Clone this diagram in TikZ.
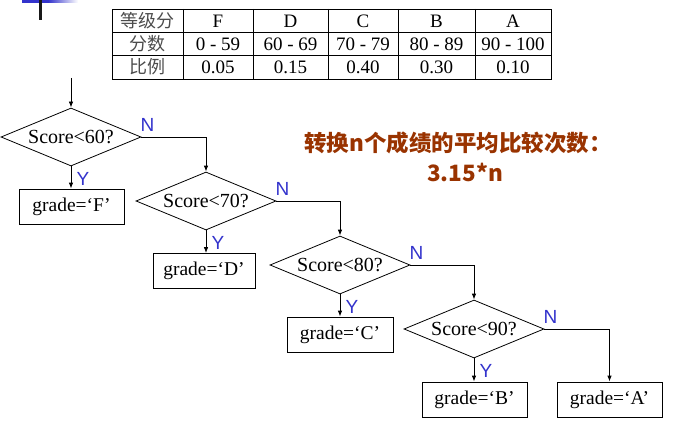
\documentclass[tikz,border=0pt]{standalone}
\usepackage{fontspec}
\setmainfont{Liberation Serif}
\newfontfamily\cjk{Noto Sans CJK SC}
\newfontfamily\lab{Liberation Sans}
\usetikzlibrary{shapes.geometric,arrows.meta}
\definecolor{ynblue}{RGB}{51,51,204}
\definecolor{hbrown}{RGB}{153,51,0}
\tikzset{
  dec/.style={diamond, draw, line width=0.8pt, aspect=2.4, minimum width=140pt, minimum height=58pt, inner sep=0pt, font=\fontsize{20}{20}\selectfont},
  gbox/.style={draw, rectangle, line width=0.8pt, minimum width=105pt, minimum height=35pt, inner sep=0pt, font=\fontsize{19.5}{19.5}\selectfont},
  arr/.style={-{Latex[length=6pt,width=4.5pt]}, line width=0.8pt},
  yn/.style={text=ynblue, font=\lab\fontsize{19}{19}\selectfont, inner sep=0pt},
  tab/.style={inner sep=0pt, font=\fontsize{19}{19}\selectfont},
  tabcjk/.style={inner sep=0pt, text=black!70, font=\cjk\fontsize{18}{18}\selectfont},
  tline/.style={line width=0.8pt},
  note/.style={inner sep=0pt, text=hbrown, font=\cjk\bfseries\fontsize{22.5}{22.5}\selectfont}
}
\begin{document}
\begin{tikzpicture}[x=1pt,y=-1pt]
\useasboundingbox (0,0) rectangle (673,428);
% decoration top left
\fill[ynblue] (22,0) rectangle (48,3);
\shade[left color=ynblue, right color=white] (48,0) rectangle (78,3);
\fill[black!90] (39,0) rectangle (42,20);
% table grid
\draw[tline] (112,9) rectangle (551,79);
\foreach \y in {32,55} \draw[tline] (112,\y) -- (551,\y);
\foreach \x in {183,253,328,398,475} \draw[tline] (\x,9) -- (\x,79);
% table text
\node[tabcjk] (h0) at (147.5,20.5) {等级分};
\node[tab] (h1) at (218,21) {F};
\node[tab] (h2) at (290.5,21) {D};
\node[tab] (h3) at (363,21) {C};
\node[tab] (h4) at (436.5,21) {B};
\node[tab] (h5) at (513,21) {A};
\node[tabcjk] (r0) at (147.5,43.5) {分数};
\node[tab] (r1) at (218,44) {0 - 59};
\node[tab] (r2) at (290.5,44) {60 - 69};
\node[tab] (r3) at (363,44) {70 - 79};
\node[tab] (r4) at (436.5,44) {80 - 89};
\node[tab] (r5) at (513,44) {90 - 100};
\node[tabcjk] (p0) at (147.5,67) {比例};
\node[tab] (p1) at (218,67.5) {0.05};
\node[tab] (p2) at (290.5,67.5) {0.15};
\node[tab] (p3) at (363,67.5) {0.40};
\node[tab] (p4) at (436.5,67.5) {0.30};
\node[tab] (p5) at (513,67.5) {0.10};
% flowchart
\coordinate (start) at (71,78);
\node[dec] (d1) at (71,137) {Score<60?};
\node[dec] (d2) at (206,201) {Score<70?};
\node[dec] (d3) at (340,265) {Score<80?};
\node[dec] (d4) at (474,329) {Score<90?};
\node[gbox] (gF) at (71.5,206.5) {grade=‘F’};
\node[gbox, minimum width=102pt] (gD) at (204,271) {grade=‘D’};
\node[gbox, minimum width=106pt] (gC) at (340,334.5) {grade=‘C’};
\node[gbox] (gB) at (474.5,399.5) {grade=‘B’};
\node[gbox] (gA) at (609.5,399.5) {grade=‘A’};
\draw[arr] (start) -- (d1.north);
\draw[arr] (d1.south) -- (d1.south |- gF.north);
\draw[arr] (d2.south) -- (d2.south |- gD.north);
\draw[arr] (d3.south) -- (d3.south |- gC.north);
\draw[arr] (d4.south) -- (d4.south |- gB.north);
\draw[arr] (d1.east) -| (d2.north);
\draw[arr] (d2.east) -| (d3.north);
\draw[arr] (d3.east) -| (d4.north);
\draw[arr] (d4.east) -| (gA.north);
% labels
\foreach \d in {d1,d2,d3,d4}{
  \node[yn] (\d N) at ([shift={(6,-12)}]\d.east) {N};
}
\node[yn] (d1Y) at ([shift={(12,13)}]d1.south) {Y};
\node[yn] (d2Y) at ([shift={(12,13)}]d2.south) {Y};
\node[yn] (d3Y) at ([shift={(12,13)}]d3.south) {Y};
\node[yn] (d4Y) at ([shift={(12,13)}]d4.south) {Y};
% note
\node[note] (note1) at (458,143) {转换n个成绩的平均比较次数：};
\node[note] (note2) at (465,172) {3.15*n};
\end{tikzpicture}
\end{document}
